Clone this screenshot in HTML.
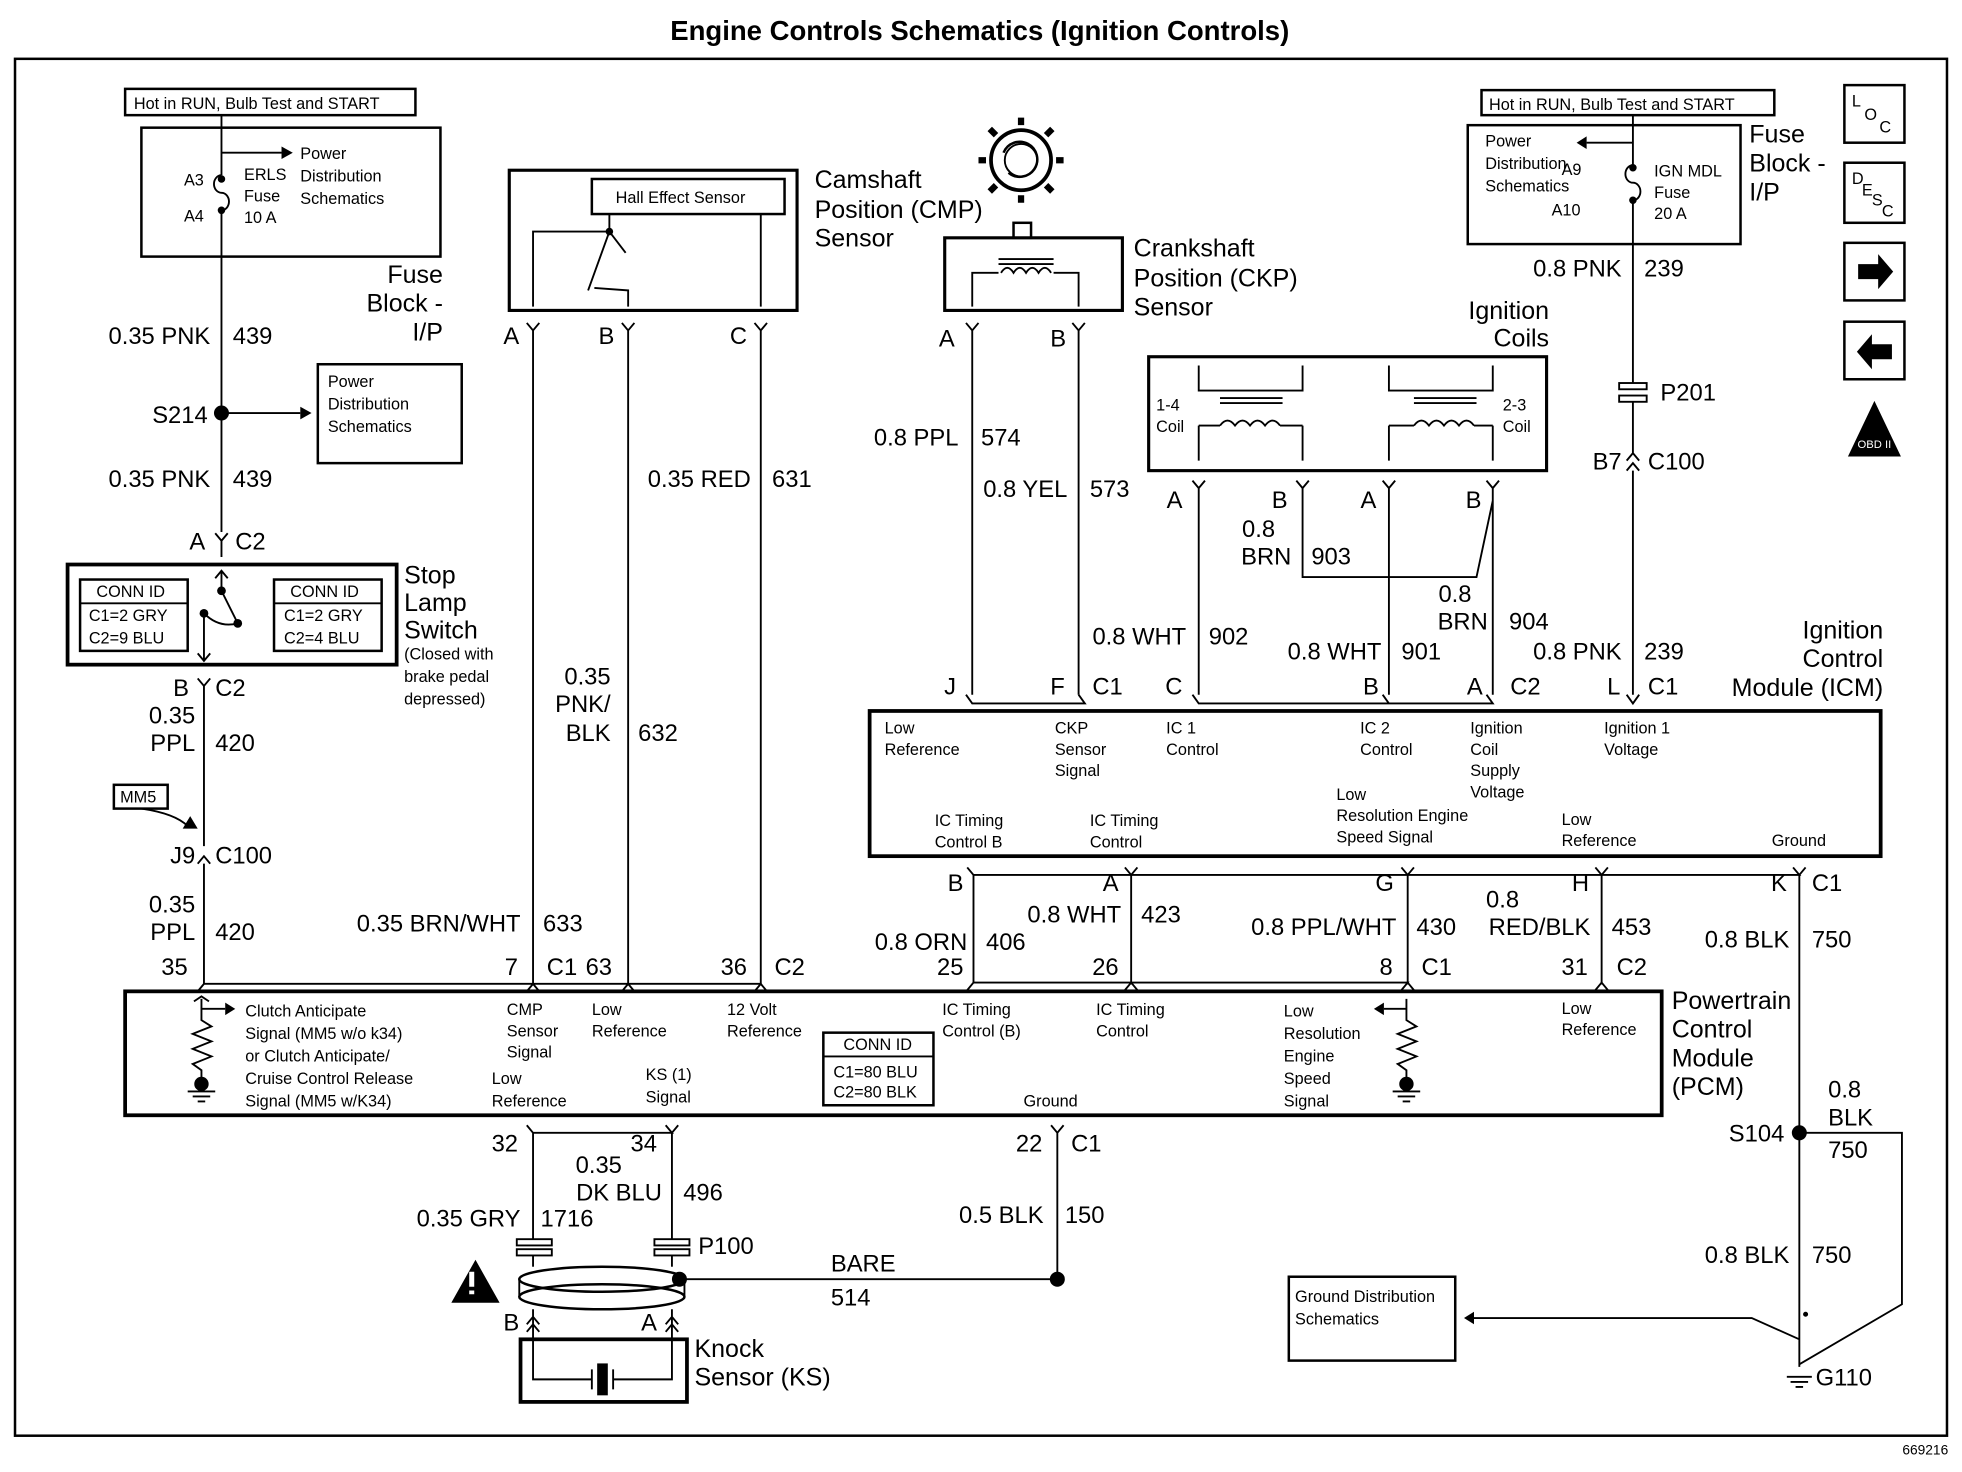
<!DOCTYPE html>
<html><head><meta charset="utf-8"><style>
html,body{margin:0;padding:0;background:#fff}
svg{display:block}
text{font-family:"Liberation Sans",sans-serif;fill:#000}
.w{font-size:19px}
.s{font-size:13px}
.m{font-size:15px}
.b{font-size:20px}
</style></head><body>
<svg width="1962" height="1472" viewBox="0 0 1568 1176" preserveAspectRatio="none" xmlns="http://www.w3.org/2000/svg">
<rect width="1568" height="1176" fill="#fff"/>
<text x="783" y="32" text-anchor="middle" style="font-size:22px;font-weight:bold">Engine Controls Schematics (Ignition Controls)</text>
<rect x="12" y="47" width="1544" height="1100" fill="none" stroke="#000" stroke-width="2"/>
<text x="1557" y="1162" text-anchor="end" class="s" style="font-size:11px">669216</text>

<g fill="none" stroke="#000" stroke-width="1.5">
<!-- LEFT -->
<rect x="100" y="71" width="232" height="21" stroke-width="2"/>
<rect x="113" y="102" width="239" height="103" stroke-width="2"/>
<line x1="177" y1="92" x2="177" y2="140"/>
<path d="M177 140 a6 7 0 0 0 0 14 a6 7 0 0 1 0 14"/>
<line x1="177" y1="168" x2="177" y2="425"/>
<line x1="177" y1="122" x2="225" y2="122"/>
<line x1="177" y1="330" x2="240" y2="330"/>
<rect x="254" y="291" width="115" height="79" stroke-width="2"/>
<path d="M172 426 L177 432 L182 426 M177 432 L177 445"/>
<rect x="54" y="451" width="263" height="80" stroke-width="3"/>
<rect x="64" y="463" width="86" height="57" stroke-width="2"/>
<rect x="219" y="463" width="86" height="57" stroke-width="2"/>
<line x1="64" y1="482" x2="150" y2="482"/><line x1="219" y1="482" x2="305" y2="482"/>
<path d="M172 462 L177 456 L182 462 M177 456 L177 472 L190 498 M163 490 L163 528 M158 522 L163 528 L168 522 M163 490 Q175 502 190 498"/>
<path d="M158 542 L163 548 L168 542 M163 548 L163 676"/>
<rect x="91" y="627" width="43" height="19" stroke-width="2"/>
<path d="M113 646 Q140 650 150 660"/>
<path d="M158 690 L163 684 L168 690 M163 690 L163 786"/>
<path d="M158 792 L163 786 L608 786 M421 792 L426 786 L431 792 M497 792 L502 786 L507 792 M603 792 L608 786 L613 792"/>
<!-- CMP -->
<rect x="407" y="136" width="230" height="112" stroke-width="2.5"/>
<rect x="473" y="143" width="154" height="28" stroke-width="2"/>
<path d="M487 171 L487 185 L470 232 M487 185 L500 202 M426 245 L426 185 L487 185 M502 245 L502 232 L475 230 M608 245 L608 171"/>
<path d="M421 258 L426 264 L431 258 M426 264 L426 786"/>
<path d="M497 258 L502 264 L507 258 M502 264 L502 786"/>
<path d="M603 258 L608 264 L613 258 M608 264 L608 786"/>
<!-- gear -->
<circle cx="816" cy="128" r="24" stroke-width="3"/>
<circle cx="816" cy="128" r="13"/>
<path d="M816 100 v-6 M816 156 v6 M788 128 h-6 M844 128 h6 M796 108 l-5 -5 M836 108 l5 -5 M796 148 l-5 5 M836 148 l5 5" stroke-width="5"/>
<rect x="810" y="178" width="14" height="12" stroke-width="2"/>
<!-- CKP -->
<rect x="755" y="190" width="142" height="58" stroke-width="2.5"/>
<path d="M777 245 L777 218 L798 218 M862 245 L862 218 L842 218 M798 207 h44 M798 211 h44 M800 218 q5 -8 10 0 q5 -8 10 0 q5 -8 10 0 q5 -8 10 0"/>
<path d="M772 258 L777 264 L782 258 M777 264 L777 555 M772 555 L777 562 L867 562 L862 555"/>
<path d="M857 258 L862 264 L867 258 M862 264 L862 555"/>
<!-- coils -->
<rect x="918" y="285" width="318" height="91" stroke-width="2.5"/>
<path d="M958 292 L958 312 L1041 312 L1041 292 M958 340 L958 368 M1041 340 L1041 368 M975 318 h50 M975 322 h50 M975 340 q6 -8 12 0 q6 -8 12 0 q6 -8 12 0 q6 -8 12 0 M958 340 L975 340 M1023 340 L1041 340"/>
<path d="M1110 292 L1110 312 L1193 312 L1193 292 M1110 340 L1110 368 M1193 340 L1193 368 M1130 318 h50 M1130 322 h50 M1130 340 q6 -8 12 0 q6 -8 12 0 q6 -8 12 0 q6 -8 12 0 M1110 340 L1130 340 M1178 340 L1193 340"/>
<path d="M953 384 L958 390 L963 384 M958 390 L958 555"/>
<path d="M1036 384 L1041 390 L1046 384 M1041 390 L1041 461 L1180 461 L1193 400 L1193 390 M1188 384 L1193 390 L1198 384 M1193 400 L1193 555"/>
<path d="M1105 384 L1110 390 L1115 384 M1110 390 L1110 555"/>
<path d="M953 555 L958 562 L1110 562 L1105 555 M1110 562 L1193 562 L1188 555"/>
<!-- right ign -->
<rect x="1184" y="72" width="234" height="20" stroke-width="2"/>
<rect x="1173" y="100" width="218" height="95" stroke-width="2"/>
<line x1="1305" y1="92" x2="1305" y2="132"/>
<path d="M1305 132 a6 7 0 0 0 0 14 a6 7 0 0 1 0 14"/>
<line x1="1305" y1="160" x2="1305" y2="306"/>
<line x1="1305" y1="114" x2="1268" y2="114"/>
<rect x="1294" y="306" width="22" height="5"/><rect x="1294" y="316" width="22" height="5"/>
<path d="M1305 321 L1305 362 M1300 368 L1305 362 L1310 368 M1300 376 L1305 370 L1310 376 M1305 376 L1305 555 M1300 555 L1305 562 L1310 555"/>
<!-- ICM -->
<rect x="695" y="568" width="808" height="116" stroke-width="3"/>
<path d="M773 693 L778 699 L904 699 L899 693 M904 699 L909 693 M904 699 L1125 699 L1120 693 M1125 699 L1130 693 M1125 699 L1280 699 L1275 693 M1280 699 L1285 693 M1280 699 L1438 699 L1433 693 M1438 699 L1443 693"/>
<path d="M778 699 V785 M904 699 V785 M1125 699 V785 M1280 699 V785 M1438 699 V905"/>
<path d="M773 791 L778 785 L904 785 L899 791 M904 785 L909 791 M904 785 L1125 785 L1120 791 M1125 785 L1130 791 M1275 791 L1280 785 L1285 791"/>
<!-- PCM -->
<rect x="100" y="792" width="1228" height="99" stroke-width="3"/>
<rect x="658" y="825" width="88" height="58" stroke-width="2"/>
<line x1="658" y1="844" x2="746" y2="844"/>
<path d="M161 798 L161 815 L169 820 L154 826 L169 832 L154 838 L169 844 L154 850 L161 855 L161 862 M161 806 H180 M150 872 h22 M154 876 h14 M158 880 h6"/>
<circle cx="161" cy="866" r="5" fill="#000"/>
<path d="M1124 798 L1124 815 L1132 820 L1117 826 L1132 832 L1117 838 L1132 844 L1117 850 L1124 855 L1124 862 M1124 806 H1106 M1113 872 h22 M1117 876 h14 M1121 880 h6"/>
<circle cx="1124" cy="866" r="5" fill="#000"/>
<path d="M155 800 L161 796 L167 800"/>
<!-- below PCM -->
<path d="M421 899 L426 905 L537 905 L532 899 M537 905 L542 899 M426 905 V990 M537 905 V990"/>
<path d="M840 899 L845 905 L850 899 M845 905 V1022"/>
<rect x="413" y="990" width="28" height="5" fill="#fff"/><rect x="413" y="998" width="28" height="5" fill="#fff"/>
<rect x="523" y="990" width="28" height="5" fill="#fff"/><rect x="523" y="998" width="28" height="5" fill="#fff"/>
<line x1="426" y1="1003" x2="426" y2="1012"/><line x1="537" y1="1003" x2="537" y2="1012"/>
<ellipse cx="481" cy="1022" rx="66" ry="10" stroke-width="2"/>
<ellipse cx="481" cy="1036" rx="66" ry="10" stroke-width="2"/>
<line x1="415" y1="1022" x2="415" y2="1036"/><line x1="547" y1="1022" x2="547" y2="1036"/>
<line x1="547" y1="1022" x2="845" y2="1022"/>
<path d="M426 1046 V1070 M537 1046 V1070 M421 1058 L426 1052 L431 1058 M421 1064 L426 1058 L431 1064 M532 1058 L537 1052 L542 1058 M532 1064 L537 1058 L542 1064"/>
<rect x="416" y="1070" width="133" height="50" stroke-width="3"/>
<path d="M426 1070 V1102 H473 M537 1070 V1102 H490 M473 1094 V1110 M490 1094 V1110"/>
<rect x="478" y="1090" width="7" height="24" fill="#000"/>
<path d="M362 1040 L380 1008 L398 1040 Z" fill="#000"/>
<!-- ground -->
<path d="M1438 905 H1520 V1042 L1438 1090 M1438 905 V1092 M1438 1070 L1400 1053 H1178"/>
<rect x="1030" y="1020" width="133" height="67" stroke-width="2"/>
<path d="M1428 1100 h20 M1431 1104 h14 M1435 1108 h6"/>
<!-- right icons -->
<rect x="1474" y="68" width="48" height="46" stroke-width="2"/>
<rect x="1474" y="130" width="48" height="48" stroke-width="2"/>
<rect x="1474" y="194" width="48" height="46" stroke-width="2"/>
<rect x="1474" y="257" width="48" height="46" stroke-width="2"/>
<path d="M1478 364 L1498 322 L1518 364 Z" fill="#000"/>
</g>
<g fill="#000">
<circle cx="177" cy="330" r="6"/>
<circle cx="543" cy="1022" r="6"/><circle cx="845" cy="1022" r="6"/>
<circle cx="1438" cy="905" r="6"/>
<circle cx="1443" cy="1050" r="2"/>
<circle cx="177" cy="143" r="3"/><circle cx="177" cy="168" r="3"/>
<circle cx="1305" cy="134" r="3"/><circle cx="1305" cy="160" r="3"/>
<circle cx="487" cy="185" r="3"/><circle cx="177" cy="472" r="3.5"/><circle cx="190" cy="498" r="3.5"/><circle cx="163" cy="490" r="3.5"/>
<path d="M225 117 L234 122 L225 127 Z"/><path d="M240 325 L249 330 L240 335 Z"/>
<path d="M1268 109 L1260 114 L1268 119 Z"/>
<path d="M1178 1048 L1170 1053 L1178 1058 Z"/>
<path d="M146 662 L152 652 L158 662 Z"/>
<path d="M1106 801 L1098 806 L1106 811 Z"/><path d="M180 801 L188 806 L180 811 Z"/>
<path d="M1485 211 h16 v-8 l12 14 l-12 14 v-8 h-16 Z"/>
<path d="M1512 275 h-16 v-8 l-12 14 l12 14 v-8 h16 Z"/>
</g>
<path d="M802 122 a14 14 0 1 1 4 16" fill="none" stroke="#000" stroke-width="2"/>
<path d="M377 1016 v12 M377 1031 v3" stroke="#fff" stroke-width="4"/>

<!-- TEXT -->
<g class="s">
<text x="107" y="87">Hot in RUN, Bulb Test and START</text>
<text x="1190" y="88">Hot in RUN, Bulb Test and START</text>
<text x="147" y="148">A3</text><text x="147" y="177">A4</text>
<text x="195" y="144">ERLS</text><text x="195" y="161">Fuse</text><text x="195" y="178">10 A</text>
<text x="240" y="127">Power</text><text x="240" y="145">Distribution</text><text x="240" y="163">Schematics</text>
<text x="262" y="309">Power</text><text x="262" y="327">Distribution</text><text x="262" y="345">Schematics</text>
<text x="77" y="477">CONN ID</text><text x="71" y="496">C1=2 GRY</text><text x="71" y="514">C2=9 BLU</text>
<text x="232" y="477">CONN ID</text><text x="227" y="496">C1=2 GRY</text><text x="227" y="514">C2=4 BLU</text>
<text x="323" y="527">(Closed with</text><text x="323" y="545">brake pedal</text><text x="323" y="563">depressed)</text>
<text x="96" y="641">MM5</text>
<text x="492" y="162">Hall Effect Sensor</text>
<text x="1187" y="117">Power</text><text x="1187" y="135">Distribution</text><text x="1187" y="153">Schematics</text>
<text x="1248" y="140">A9</text><text x="1240" y="172">A10</text>
<text x="1322" y="141">IGN MDL</text><text x="1322" y="158">Fuse</text><text x="1322" y="175">20 A</text>
<text x="924" y="328">1-4</text><text x="924" y="345">Coil</text>
<text x="1201" y="328">2-3</text><text x="1201" y="345">Coil</text>
<text x="707" y="586">Low</text><text x="707" y="603">Reference</text>
<text x="843" y="586">CKP</text><text x="843" y="603">Sensor</text><text x="843" y="620">Signal</text>
<text x="932" y="586">IC 1</text><text x="932" y="603">Control</text>
<text x="1087" y="586">IC 2</text><text x="1087" y="603">Control</text>
<text x="1175" y="586">Ignition</text><text x="1175" y="603">Coil</text><text x="1175" y="620">Supply</text><text x="1175" y="637">Voltage</text>
<text x="1282" y="586">Ignition 1</text><text x="1282" y="603">Voltage</text>
<text x="1068" y="639">Low</text><text x="1068" y="656">Resolution Engine</text><text x="1068" y="673">Speed Signal</text>
<text x="747" y="660">IC Timing</text><text x="747" y="677">Control B</text>
<text x="871" y="660">IC Timing</text><text x="871" y="677">Control</text>
<text x="1248" y="659">Low</text><text x="1248" y="676">Reference</text>
<text x="1416" y="676">Ground</text>
<text x="196" y="812">Clutch Anticipate</text><text x="196" y="830">Signal (MM5 w/o k34)</text><text x="196" y="848">or Clutch Anticipate/</text><text x="196" y="866">Cruise Control Release</text><text x="196" y="884">Signal (MM5 w/K34)</text>
<text x="405" y="811">CMP</text><text x="405" y="828">Sensor</text><text x="405" y="845">Signal</text>
<text x="473" y="811">Low</text><text x="473" y="828">Reference</text>
<text x="581" y="811">12 Volt</text><text x="581" y="828">Reference</text>
<text x="393" y="866">Low</text><text x="393" y="884">Reference</text>
<text x="516" y="863">KS (1)</text><text x="516" y="881">Signal</text>
<text x="674" y="839">CONN ID</text><text x="666" y="861">C1=80 BLU</text><text x="666" y="877">C2=80 BLK</text>
<text x="753" y="811">IC Timing</text><text x="753" y="828">Control (B)</text>
<text x="876" y="811">IC Timing</text><text x="876" y="828">Control</text>
<text x="818" y="884">Ground</text>
<text x="1026" y="812">Low</text><text x="1026" y="830">Resolution</text><text x="1026" y="848">Engine</text><text x="1026" y="866">Speed</text><text x="1026" y="884">Signal</text>
<text x="1248" y="810">Low</text><text x="1248" y="827">Reference</text>
<text x="1035" y="1040">Ground Distribution</text><text x="1035" y="1058">Schematics</text>
<text x="1480" y="85">L</text><text x="1490" y="96">O</text><text x="1502" y="106">C</text>
<text x="1480" y="147">D</text><text x="1488" y="156">E</text><text x="1496" y="164">S</text><text x="1504" y="173">C</text>
<text x="1498" y="358" text-anchor="middle" style="font-size:9px;fill:#fff">OBD II</text>
</g>
<g class="b">
<text x="354" y="226" text-anchor="end">Fuse</text><text x="354" y="249" text-anchor="end">Block -</text><text x="354" y="272" text-anchor="end">I/P</text>
<text x="323" y="466">Stop</text><text x="323" y="488">Lamp</text><text x="323" y="510">Switch</text>
<text x="651" y="150">Camshaft</text><text x="651" y="174">Position (CMP)</text><text x="651" y="197">Sensor</text>
<text x="906" y="205">Crankshaft</text><text x="906" y="229">Position (CKP)</text><text x="906" y="252">Sensor</text>
<text x="1238" y="255" text-anchor="end">Ignition</text><text x="1238" y="277" text-anchor="end">Coils</text>
<text x="1398" y="114">Fuse</text><text x="1398" y="137">Block -</text><text x="1398" y="160">I/P</text>
<text x="1505" y="510" text-anchor="end">Ignition</text><text x="1505" y="533" text-anchor="end">Control</text><text x="1505" y="556" text-anchor="end">Module (ICM)</text>
<text x="1336" y="806">Powertrain</text><text x="1336" y="829">Control</text><text x="1336" y="852">Module</text><text x="1336" y="875">(PCM)</text>
<text x="555" y="1084">Knock</text><text x="555" y="1107">Sensor (KS)</text>
</g>
<g class="w">
<text x="168" y="275" text-anchor="end">0.35 PNK</text><text x="186" y="275">439</text>
<text x="166" y="338" text-anchor="end">S214</text>
<text x="168" y="389" text-anchor="end">0.35 PNK</text><text x="186" y="389">439</text>
<text x="164" y="439" text-anchor="end">A</text><text x="188" y="439">C2</text>
<text x="151" y="556" text-anchor="end">B</text><text x="172" y="556">C2</text>
<text x="156" y="578" text-anchor="end">0.35</text><text x="156" y="600" text-anchor="end">PPL</text><text x="172" y="600">420</text>
<text x="156" y="690" text-anchor="end">J9</text><text x="172" y="690">C100</text>
<text x="156" y="729" text-anchor="end">0.35</text><text x="156" y="751" text-anchor="end">PPL</text><text x="172" y="751">420</text>
<text x="150" y="779" text-anchor="end">35</text>
<text x="415" y="275" text-anchor="end">A</text><text x="491" y="275" text-anchor="end">B</text><text x="597" y="275" text-anchor="end">C</text>
<text x="600" y="389" text-anchor="end">0.35 RED</text><text x="617" y="389">631</text>
<text x="488" y="547" text-anchor="end">0.35</text><text x="488" y="569" text-anchor="end">PNK/</text><text x="488" y="592" text-anchor="end">BLK</text><text x="510" y="592">632</text>
<text x="416" y="744" text-anchor="end">0.35 BRN/WHT</text><text x="434" y="744">633</text>
<text x="414" y="779" text-anchor="end">7</text><text x="437" y="779">C1</text><text x="468" y="779">63</text>
<text x="597" y="779" text-anchor="end">36</text><text x="619" y="779">C2</text>
<text x="763" y="277" text-anchor="end">A</text><text x="852" y="277" text-anchor="end">B</text>
<text x="766" y="356" text-anchor="end">0.8 PPL</text><text x="784" y="356">574</text>
<text x="853" y="397" text-anchor="end">0.8 YEL</text><text x="871" y="397">573</text>
<text x="948" y="515" text-anchor="end">0.8 WHT</text><text x="966" y="515">902</text>
<text x="764" y="555" text-anchor="end">J</text><text x="851" y="555" text-anchor="end">F</text><text x="873" y="555">C1</text>
<text x="945" y="406" text-anchor="end">A</text><text x="1029" y="406" text-anchor="end">B</text><text x="1100" y="406" text-anchor="end">A</text><text x="1184" y="406" text-anchor="end">B</text>
<text x="1019" y="429" text-anchor="end">0.8</text><text x="1032" y="451" text-anchor="end">BRN</text><text x="1048" y="451">903</text>
<text x="1176" y="481" text-anchor="end">0.8</text><text x="1189" y="503" text-anchor="end">BRN</text><text x="1206" y="503">904</text>
<text x="1104" y="527" text-anchor="end">0.8 WHT</text><text x="1120" y="527">901</text>
<text x="945" y="555" text-anchor="end">C</text><text x="1102" y="555" text-anchor="end">B</text><text x="1185" y="555" text-anchor="end">A</text><text x="1207" y="555">C2</text>
<text x="1296" y="221" text-anchor="end">0.8 PNK</text><text x="1314" y="221">239</text>
<text x="1327" y="320">P201</text>
<text x="1296" y="375" text-anchor="end">B7</text><text x="1317" y="375">C100</text>
<text x="1296" y="527" text-anchor="end">0.8 PNK</text><text x="1314" y="527">239</text>
<text x="1295" y="555" text-anchor="end">L</text><text x="1317" y="555">C1</text>
<text x="770" y="712" text-anchor="end">B</text><text x="894" y="712" text-anchor="end">A</text><text x="1114" y="712" text-anchor="end">G</text><text x="1270" y="712" text-anchor="end">H</text><text x="1428" y="712" text-anchor="end">K</text><text x="1448" y="712">C1</text>
<text x="896" y="737" text-anchor="end">0.8 WHT</text><text x="912" y="737">423</text>
<text x="773" y="759" text-anchor="end">0.8 ORN</text><text x="788" y="759">406</text>
<text x="1116" y="747" text-anchor="end">0.8 PPL/WHT</text><text x="1132" y="747">430</text>
<text x="1214" y="725" text-anchor="end">0.8</text><text x="1271" y="747" text-anchor="end">RED/BLK</text><text x="1288" y="747">453</text>
<text x="1430" y="757" text-anchor="end">0.8 BLK</text><text x="1448" y="757">750</text>
<text x="770" y="779" text-anchor="end">25</text><text x="894" y="779" text-anchor="end">26</text>
<text x="1113" y="779" text-anchor="end">8</text><text x="1136" y="779">C1</text>
<text x="1269" y="779" text-anchor="end">31</text><text x="1292" y="779">C2</text>
<text x="414" y="920" text-anchor="end">32</text><text x="525" y="920" text-anchor="end">34</text>
<text x="833" y="920" text-anchor="end">22</text><text x="856" y="920">C1</text>
<text x="497" y="937" text-anchor="end">0.35</text><text x="529" y="959" text-anchor="end">DK BLU</text><text x="546" y="959">496</text>
<text x="416" y="980" text-anchor="end">0.35 GRY</text><text x="432" y="980">1716</text>
<text x="834" y="977" text-anchor="end">0.5 BLK</text><text x="851" y="977">150</text>
<text x="558" y="1002">P100</text>
<text x="664" y="1016">BARE</text><text x="664" y="1043">514</text>
<text x="415" y="1063" text-anchor="end">B</text><text x="525" y="1063" text-anchor="end">A</text>
<text x="1426" y="912" text-anchor="end">S104</text>
<text x="1461" y="877">0.8</text><text x="1461" y="899">BLK</text><text x="1461" y="925">750</text>
<text x="1430" y="1009" text-anchor="end">0.8 BLK</text><text x="1448" y="1009">750</text>
<text x="1451" y="1107">G110</text>
</g>
</svg>
</body></html>
